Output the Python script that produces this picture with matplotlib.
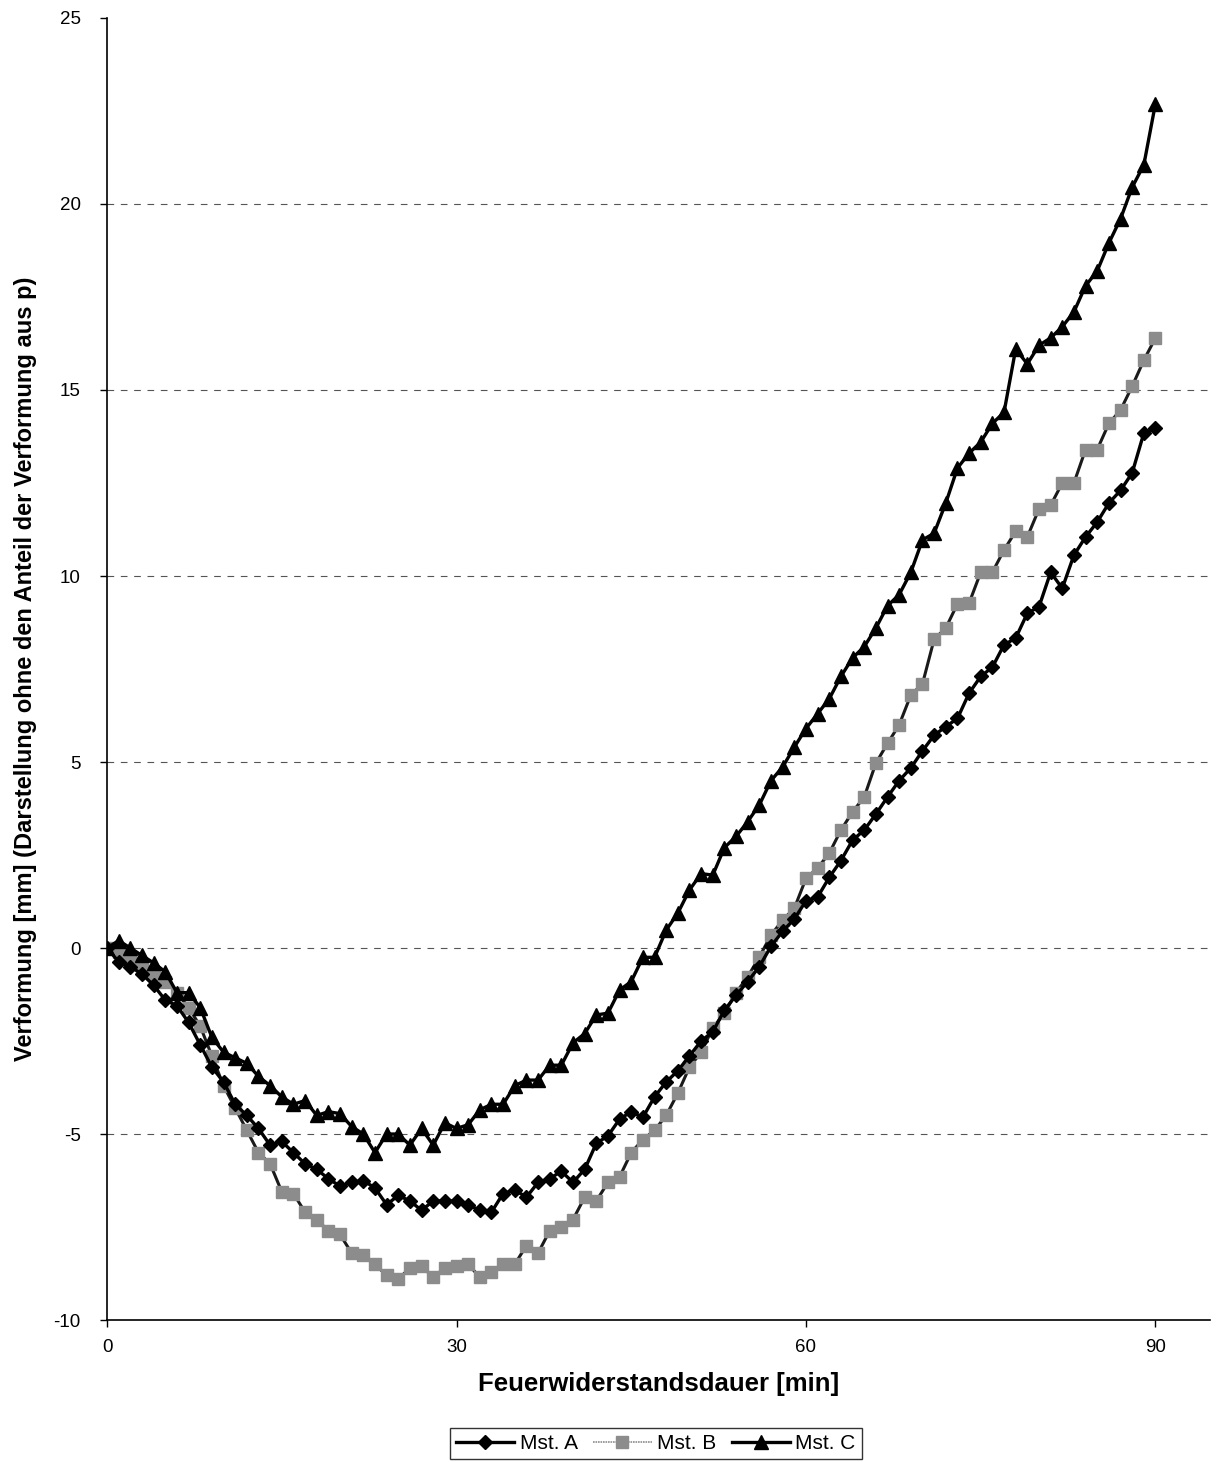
import numpy as np
import matplotlib
matplotlib.use('Agg')
import matplotlib.pyplot as plt

plt.rcParams['font.family'] = ['Liberation Sans', 'DejaVu Sans']
plt.rcParams['axes.unicode_minus'] = False

minutes = np.arange(0, 91)

mst_a = [
    0.0, -0.37, -0.5, -0.7, -1.0, -1.4, -1.55, -2.0, -2.6, -3.2,
    -3.6, -4.2, -4.5, -4.85, -5.3, -5.2, -5.5, -5.8, -5.95, -6.2,
    -6.4, -6.3, -6.25, -6.45, -6.9, -6.65, -6.8, -7.05, -6.8, -6.8,
    -6.8, -6.9, -7.05, -7.1, -6.6, -6.5, -6.7, -6.3, -6.2, -6.0,
    -6.3, -5.95, -5.25, -5.05, -4.6, -4.4, -4.55, -4.0, -3.6, -3.3,
    -2.9, -2.5, -2.25, -1.67, -1.27, -0.9, -0.5, 0.05, 0.45, 0.78,
    1.27, 1.37, 1.9, 2.35, 2.9, 3.17, 3.6, 4.06, 4.5, 4.84,
    5.3, 5.72, 5.95, 6.17, 6.85, 7.3, 7.55, 8.15, 8.33, 9.0,
    9.17, 10.1, 9.67, 10.56, 11.05, 11.45, 11.96, 12.3, 12.77, 13.84,
    13.98,
]

mst_b = [
    0.0, -0.1, -0.3, -0.5, -0.7, -0.9, -1.2, -1.6, -2.1, -2.9,
    -3.7, -4.3, -4.9, -5.5, -5.8, -6.55, -6.6, -7.1, -7.3, -7.6,
    -7.7, -8.2, -8.25, -8.5, -8.8, -8.9, -8.6, -8.55, -8.85, -8.6,
    -8.55, -8.5, -8.85, -8.7, -8.5, -8.5, -8.0, -8.2, -7.6, -7.5,
    -7.3, -6.7, -6.8, -6.3, -6.15, -5.5, -5.15, -4.9, -4.5, -3.9,
    -3.2, -2.8, -2.15, -1.75, -1.2, -0.77, -0.24, 0.35, 0.75, 1.07,
    1.87, 2.15, 2.55, 3.17, 3.66, 4.06, 4.97, 5.5, 6.0, 6.8,
    7.1, 8.3, 8.6, 9.25, 9.27, 10.1, 10.1, 10.7, 11.2, 11.05,
    11.8, 11.9, 12.5, 12.5, 13.4, 13.4, 14.1, 14.46, 15.1, 15.8,
    16.4,
]

mst_c = [
    0.0, 0.2, 0.0, -0.2, -0.4, -0.64, -1.2, -1.2, -1.6, -2.4,
    -2.8, -2.95, -3.1, -3.45, -3.7, -4.0, -4.2, -4.1, -4.5, -4.4,
    -4.45, -4.8, -5.0, -5.5, -5.0, -5.0, -5.3, -4.85, -5.3, -4.7,
    -4.85, -4.75, -4.35, -4.2, -4.2, -3.7, -3.55, -3.55, -3.15, -3.15,
    -2.55, -2.3, -1.8, -1.75, -1.13, -0.9, -0.25, -0.25, 0.48, 0.94,
    1.56, 2.0, 1.96, 2.7, 3.0, 3.4, 3.85, 4.5, 4.87, 5.4,
    5.9, 6.3, 6.7, 7.3, 7.8, 8.1, 8.6, 9.2, 9.5, 10.1,
    10.97, 11.15, 11.96, 12.9, 13.3, 13.6, 14.1, 14.4, 16.1, 15.7,
    16.2, 16.4, 16.7, 17.1, 17.8, 18.2, 18.95, 19.6, 20.45, 21.05,
    22.7,
]

fig = plt.figure(figsize=(12.19, 14.62), dpi=100)
ax = fig.add_axes([0.0878, 0.0971, 0.905, 0.8906])

ax.plot(minutes, mst_a, color='black', lw=2.4, marker='D', ms=7.5,
        mfc='black', mec='black', label='Mst. A', zorder=3)
ax.plot(minutes, mst_b, color='#1a1a1a', lw=2.2, marker='s', ms=9,
        mfc='#8c8c8c', mec='#8c8c8c', label='Mst. B', zorder=2)
ax.plot(minutes, mst_c, color='black', lw=2.4, marker='^', ms=10,
        mfc='black', mec='black', label='Mst. C', zorder=4)

ax.set_xlim(0, 94.7)
ax.set_ylim(-10, 25)
ax.set_xticks([0, 30, 60, 90])
ax.set_yticks(np.arange(-10, 26, 5))
ax.tick_params(labelsize=13.5, length=5, width=1, direction='out')
ax.tick_params(axis='x', pad=9)
ax.tick_params(axis='y', pad=14)

ax.grid(axis='y', color='#555555', ls=(0, (6, 6)), lw=0.8)
for gl, v in zip(ax.get_ygridlines(), ax.get_yticks()):
    gl.set_visible(-10 < v < 25)
ax.set_axisbelow(True)

for s in ['top', 'right']:
    ax.spines[s].set_visible(False)
for s in ['left', 'bottom']:
    ax.spines[s].set_linewidth(1.2)

ax.set_xlabel('Feuerwiderstandsdauer [min]', fontsize=18.5, fontweight='bold',
              labelpad=11)
ax.set_ylabel('Verformung [mm] (Darstellung ohne den Anteil der Verformung aus p)',
              fontsize=17, fontweight='bold', labelpad=12)

leg = fig.legend(loc='center', bbox_to_anchor=(0.538, 0.0127), ncol=3,
                 fontsize=15, frameon=True, fancybox=False, edgecolor='black',
                 handlelength=2.8, handletextpad=0.25, columnspacing=0.75,
                 borderpad=0.3)
# in the legend the B line is drawn thin and grey
leg.get_lines()[1].set_color('#8c8c8c')
leg.get_lines()[1].set_linewidth(1.2)
leg.get_lines()[1].set_linestyle((0, (1, 0.5)))

fig.savefig('out.png', dpi=100, facecolor='white')
